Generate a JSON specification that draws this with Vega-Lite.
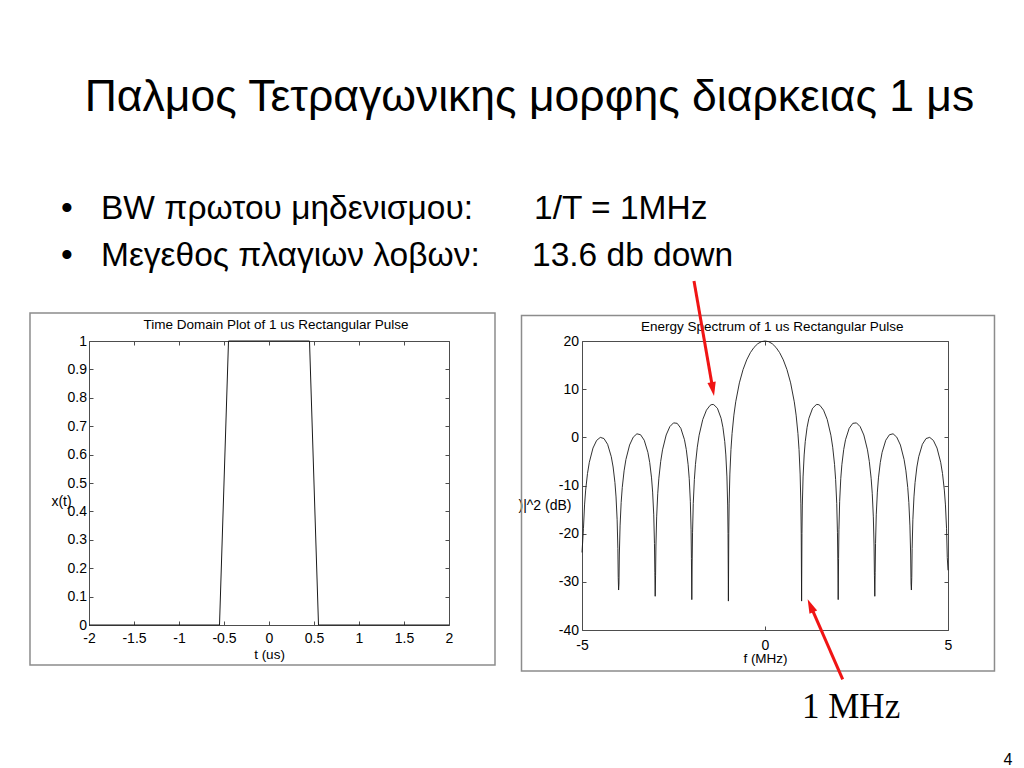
{
  "$schema": "https://vega.github.io/schema/vega-lite/v6.json",
  "background": "white",
  "padding": 0,
  "autosize": {"type": "pad"},
  "bounds": "flush",
  "spacing": 133,
  "config": {
    "font": "Liberation Sans",
    "view": {"stroke": "#4d4d4d", "strokeWidth": 1},
    "axis": {
      "domain": false, "grid": false, "tickColor": "#4d4d4d", "tickSize": -4, "tickWidth": 1,
      "labelFontSize": 14, "labelColor": "#000000", "labelFont": "Liberation Sans",
      "titleFont": "Liberation Sans", "titleFontSize": 13.5, "titleFontWeight": "normal", "titleColor": "#000000",
      "labelFlush": false, "labelOverlap": false
    }
  },
  "datasets": {
    "pulse": [
      {"t": -2, "x": 0}, {"t": -0.55, "x": 0}, {"t": -0.45, "x": 1}, {"t": 0.45, "x": 1}, {"t": 0.55, "x": 0}, {"t": 2, "x": 0}
    ],
    "spectrum": [
      {"f": -5.0, "d": -23.9}, {"f": -4.98, "d": -21.5}, {"f": -4.96, "d": -18.89}, {"f": -4.93, "d": -14.03}, {"f": -4.9, "d": -10.95},
      {"f": -4.85, "d": -7.52}, {"f": -4.8, "d": -5.18}, {"f": -4.7, "d": -2.23}, {"f": -4.6, "d": -0.64}, {"f": -4.5, "d": -0.01},
      {"f": -4.4, "d": -0.25}, {"f": -4.3, "d": -1.45}, {"f": -4.2, "d": -4.02}, {"f": -4.15, "d": -6.16}, {"f": -4.1, "d": -9.4},
      {"f": -4.07, "d": -12.37}, {"f": -4.04, "d": -17.11}, {"f": -4.02, "d": -23.07}, {"f": -4.01, "d": -29.07}, {"f": -4.0, "d": -31.7},
      {"f": -3.99, "d": -30.47}, {"f": -3.98, "d": -24.43}, {"f": -3.96, "d": -18.39}, {"f": -3.93, "d": -13.51}, {"f": -3.9, "d": -10.41},
      {"f": -3.85, "d": -6.96}, {"f": -3.8, "d": -4.6}, {"f": -3.7, "d": -1.6}, {"f": -3.6, "d": 0.04}, {"f": -3.5, "d": 0.73},
      {"f": -3.4, "d": 0.54}, {"f": -3.3, "d": -0.6}, {"f": -3.2, "d": -3.11}, {"f": -3.15, "d": -5.22}, {"f": -3.1, "d": -8.42},
      {"f": -3.07, "d": -11.37}, {"f": -3.04, "d": -16.09}, {"f": -3.02, "d": -22.03}, {"f": -3.01, "d": -28.02}, {"f": -3.0, "d": -33.0},
      {"f": -2.99, "d": -28.62}, {"f": -2.98, "d": -22.57}, {"f": -2.96, "d": -16.51}, {"f": -2.93, "d": -11.61}, {"f": -2.9, "d": -8.49},
      {"f": -2.85, "d": -5.0}, {"f": -2.8, "d": -2.6}, {"f": -2.7, "d": 0.49}, {"f": -2.6, "d": 2.22}, {"f": -2.5, "d": 3.0},
      {"f": -2.4, "d": 2.91}, {"f": -2.3, "d": 1.88}, {"f": -2.2, "d": -0.5}, {"f": -2.15, "d": -2.55}, {"f": -2.1, "d": -5.69},
      {"f": -2.07, "d": -8.59}, {"f": -2.04, "d": -13.28}, {"f": -2.02, "d": -19.19}, {"f": -2.01, "d": -25.17}, {"f": -2.0, "d": -33.7},
      {"f": -1.99, "d": -25.88}, {"f": -1.98, "d": -19.82}, {"f": -1.96, "d": -13.73}, {"f": -1.93, "d": -8.78}, {"f": -1.9, "d": -5.62},
      {"f": -1.85, "d": -2.05}, {"f": -1.8, "d": 0.44}, {"f": -1.7, "d": 3.71}, {"f": -1.6, "d": 5.64}, {"f": -1.5, "d": 6.64},
      {"f": -1.45, "d": 6.82}, {"f": -1.4, "d": 6.79}, {"f": -1.3, "d": 6.04}, {"f": -1.2, "d": 3.96}, {"f": -1.15, "d": 2.08},
      {"f": -1.1, "d": -0.87}, {"f": -1.07, "d": -3.66}, {"f": -1.04, "d": -8.22}, {"f": -1.02, "d": -14.06}, {"f": -1.01, "d": -19.99},
      {"f": -1.0, "d": -34.0},
      {"f": -0.99, "d": -19.91}, {"f": -0.98, "d": -13.81}, {"f": -0.96, "d": -7.63}, {"f": -0.93, "d": -2.54}, {"f": -0.9, "d": 0.77},
      {"f": -0.85, "d": 4.61}, {"f": -0.8, "d": 7.38}, {"f": -0.7, "d": 11.31}, {"f": -0.6, "d": 14.06}, {"f": -0.5, "d": 16.08},
      {"f": -0.4, "d": 17.58}, {"f": -0.3, "d": 18.67}, {"f": -0.2, "d": 19.42}, {"f": -0.1, "d": 19.86}, {"f": 0, "d": 20.0},
      {"f": 0.1, "d": 19.86}, {"f": 0.2, "d": 19.42}, {"f": 0.3, "d": 18.67}, {"f": 0.4, "d": 17.58}, {"f": 0.5, "d": 16.08},
      {"f": 0.6, "d": 14.06}, {"f": 0.7, "d": 11.31}, {"f": 0.8, "d": 7.38}, {"f": 0.85, "d": 4.61}, {"f": 0.9, "d": 0.77},
      {"f": 0.93, "d": -2.54}, {"f": 0.96, "d": -7.63}, {"f": 0.98, "d": -13.81}, {"f": 0.99, "d": -19.91},
      {"f": 1.0, "d": -34.0},
      {"f": 1.01, "d": -19.99}, {"f": 1.02, "d": -14.06}, {"f": 1.04, "d": -8.22}, {"f": 1.07, "d": -3.66}, {"f": 1.1, "d": -0.87},
      {"f": 1.15, "d": 2.08}, {"f": 1.2, "d": 3.96}, {"f": 1.3, "d": 6.04}, {"f": 1.4, "d": 6.79}, {"f": 1.45, "d": 6.82},
      {"f": 1.5, "d": 6.64}, {"f": 1.6, "d": 5.64}, {"f": 1.7, "d": 3.71}, {"f": 1.8, "d": 0.44}, {"f": 1.85, "d": -2.05},
      {"f": 1.9, "d": -5.62}, {"f": 1.93, "d": -8.78}, {"f": 1.96, "d": -13.73}, {"f": 1.98, "d": -19.82}, {"f": 1.99, "d": -25.88},
      {"f": 2.0, "d": -33.7},
      {"f": 2.01, "d": -25.17}, {"f": 2.02, "d": -19.19}, {"f": 2.04, "d": -13.28}, {"f": 2.07, "d": -8.59}, {"f": 2.1, "d": -5.69},
      {"f": 2.15, "d": -2.55}, {"f": 2.2, "d": -0.5}, {"f": 2.3, "d": 1.88}, {"f": 2.4, "d": 2.91}, {"f": 2.5, "d": 3.0},
      {"f": 2.6, "d": 2.22}, {"f": 2.7, "d": 0.49}, {"f": 2.8, "d": -2.6}, {"f": 2.85, "d": -5.0}, {"f": 2.9, "d": -8.49},
      {"f": 2.93, "d": -11.61}, {"f": 2.96, "d": -16.51}, {"f": 2.98, "d": -22.57}, {"f": 2.99, "d": -28.62}, {"f": 3.0, "d": -33.0},
      {"f": 3.01, "d": -28.02}, {"f": 3.02, "d": -22.03}, {"f": 3.04, "d": -16.09}, {"f": 3.07, "d": -11.37}, {"f": 3.1, "d": -8.42},
      {"f": 3.15, "d": -5.22}, {"f": 3.2, "d": -3.11}, {"f": 3.3, "d": -0.6}, {"f": 3.4, "d": 0.54}, {"f": 3.5, "d": 0.73},
      {"f": 3.6, "d": 0.04}, {"f": 3.7, "d": -1.6}, {"f": 3.8, "d": -4.6}, {"f": 3.85, "d": -6.96}, {"f": 3.9, "d": -10.41},
      {"f": 3.93, "d": -13.51}, {"f": 3.96, "d": -18.39}, {"f": 3.98, "d": -24.43}, {"f": 3.99, "d": -30.47}, {"f": 4.0, "d": -31.7},
      {"f": 4.01, "d": -29.07}, {"f": 4.02, "d": -23.07}, {"f": 4.04, "d": -17.11}, {"f": 4.07, "d": -12.37}, {"f": 4.1, "d": -9.4},
      {"f": 4.15, "d": -6.16}, {"f": 4.2, "d": -4.02}, {"f": 4.3, "d": -1.45}, {"f": 4.4, "d": -0.25}, {"f": 4.5, "d": -0.01},
      {"f": 4.6, "d": -0.64}, {"f": 4.7, "d": -2.23}, {"f": 4.8, "d": -5.18}, {"f": 4.85, "d": -7.52}, {"f": 4.9, "d": -10.95},
      {"f": 4.93, "d": -14.03}, {"f": 4.96, "d": -18.89}, {"f": 4.98, "d": -24.93}, {"f": 5.0, "d": -27.6}
    ]
  },
  "hconcat": [
    {
      "width": 360,
      "height": 284,
      "resolve": {"axis": {"x": "independent", "y": "independent"}},
      "layer": [
        {
          "data": {"values": [{"t1": -2.9778, "t2": 8.4, "v1": 2.1972, "v2": -0.507}]},
          "mark": {"type": "rect", "opacity": 0},
          "encoding": {
            "x": {"field": "t1", "type": "quantitative", "scale": {"domain": [-2, 2], "nice": false, "zero": false},
                  "axis": {"orient": "top", "values": [-2, -1.5, -1, -0.5, 0, 0.5, 1, 1.5, 2], "labels": false, "title": null}},
            "x2": {"field": "t2"},
            "y": {"field": "v1", "type": "quantitative", "scale": {"domain": [0, 1], "nice": false, "zero": false},
                  "axis": {"orient": "right", "values": [0, 0.1, 0.2, 0.3, 0.4, 0.5, 0.6, 0.7, 0.8, 0.9, 1], "labels": false, "title": null}},
            "y2": {"field": "v2"}
          }
        },
        {
          "data": {"values": [{"t1": -2.6556, "t2": 2.5111, "v1": 1.0986, "v2": -0.1408}]},
          "mark": {"type": "rect", "filled": false, "stroke": "#8c8c8c", "strokeWidth": 1.5},
          "encoding": {
            "x": {"field": "t1", "type": "quantitative", "scale": {"domain": [-2, 2], "nice": false, "zero": false}, "axis": null},
            "x2": {"field": "t2"},
            "y": {"field": "v1", "type": "quantitative", "scale": {"domain": [0, 1], "nice": false, "zero": false}, "axis": null},
            "y2": {"field": "v2"}
          }
        },
        {
          "data": {"name": "pulse"},
          "mark": {"type": "line", "color": "#1a1a1a", "strokeWidth": 1},
          "encoding": {
            "x": {"field": "t", "type": "quantitative", "scale": {"domain": [-2, 2], "nice": false, "zero": false},
                  "axis": {"orient": "bottom", "values": [-2, -1.5, -1, -0.5, 0, 0.5, 1, 1.5, 2], "labelExpr": "'' + datum.value",
                           "labelPadding": 10, "title": "t (us)", "titleY": 33, "titleBaseline": "alphabetic"}},
            "y": {"field": "x", "type": "quantitative", "scale": {"domain": [0, 1], "nice": false, "zero": false},
                  "axis": {"orient": "left", "values": [0, 0.1, 0.2, 0.3, 0.4, 0.5, 0.6, 0.7, 0.8, 0.9, 1], "labelExpr": "'' + datum.value",
                           "labelPadding": 6.5, "title": "x(t)", "titleAngle": 0, "titleX": -28, "titleY": 160,
                           "titleAlign": "center", "titleBaseline": "middle", "titleFontSize": 14}}
          }
        },
        {
          "data": {"values": [{"t": 0.0778, "v": 1.0412, "label": "Time Domain Plot of 1 us Rectangular Pulse"}]},
          "mark": {"type": "text", "fontSize": 13.5, "align": "center", "baseline": "alphabetic", "color": "#000000"},
          "encoding": {
            "x": {"field": "t", "type": "quantitative", "scale": {"domain": [-2, 2], "nice": false, "zero": false}, "axis": null},
            "y": {"field": "v", "type": "quantitative", "scale": {"domain": [0, 1], "nice": false, "zero": false}, "axis": null},
            "text": {"field": "label"}
          }
        },
        {
          "data": {"values": [{"t": 2.8944, "v": 1.8099, "label": "Παλμος Τετραγωνικης μορφης διαρκειας 1 μs"}]},
          "mark": {"type": "text", "fontSize": 44.5, "align": "center", "baseline": "alphabetic", "color": "#000000"},
          "encoding": {
            "x": {"field": "t", "type": "quantitative", "scale": {"domain": [-2, 2], "nice": false, "zero": false}, "axis": null},
            "y": {"field": "v", "type": "quantitative", "scale": {"domain": [0, 1], "nice": false, "zero": false}, "axis": null},
            "text": {"field": "label"}
          }
        },
        {
          "data": {"values": [
            {"t": -2.3111, "v": 1.4296, "label": "•"},
            {"t": -2.3111, "v": 1.2641, "label": "•"},
            {"t": -1.8667, "v": 1.4296, "label": "BW πρωτου μηδενισμου:"},
            {"t": -1.8667, "v": 1.2641, "label": "Μεγεθος πλαγιων λοβων:"},
            {"t": 2.9444, "v": 1.4296, "label": "1/T = 1MHz"},
            {"t": 2.9222, "v": 1.2641, "label": "13.6 db down"}
          ]},
          "mark": {"type": "text", "fontSize": 33.5, "align": "left", "baseline": "alphabetic", "color": "#000000"},
          "encoding": {
            "x": {"field": "t", "type": "quantitative", "scale": {"domain": [-2, 2], "nice": false, "zero": false}, "axis": null},
            "y": {"field": "v", "type": "quantitative", "scale": {"domain": [0, 1], "nice": false, "zero": false}, "axis": null},
            "text": {"field": "label"}
          }
        }
      ]
    },
    {
      "width": 366,
      "height": 289,
      "resolve": {"axis": {"x": "independent", "y": "independent"}},
      "layer": [
        {
          "data": {"values": [{"f1": -6.653, "f2": 6.27, "d1": 25.29, "d2": -48.51}]},
          "mark": {"type": "rect", "filled": false, "stroke": "#8c8c8c", "strokeWidth": 1.5},
          "encoding": {
            "x": {"field": "f1", "type": "quantitative", "scale": {"domain": [-5, 5], "nice": false, "zero": false},
                  "axis": {"orient": "top", "values": [-5, 0, 5], "labels": false, "title": null}},
            "x2": {"field": "f2"},
            "y": {"field": "d1", "type": "quantitative", "scale": {"domain": [-40, 20], "nice": false, "zero": false},
                  "axis": {"orient": "right", "values": [-40, -30, -20, -10, 0, 10, 20], "labels": false, "title": null}},
            "y2": {"field": "d2"}
          }
        },
        {
          "data": {"name": "spectrum"},
          "mark": {"type": "line", "color": "#1a1a1a", "strokeWidth": 0.9},
          "encoding": {
            "x": {"field": "f", "type": "quantitative", "scale": {"domain": [-5, 5], "nice": false, "zero": false},
                  "axis": {"orient": "bottom", "values": [-5, 0, 5], "labelExpr": "'' + datum.value", "labelPadding": 12,
                           "title": "f (MHz)", "titleY": 32, "titleBaseline": "alphabetic"}},
            "y": {"field": "d", "type": "quantitative", "scale": {"domain": [-40, 20], "nice": false, "zero": false},
                  "axis": {"orient": "left", "values": [-40, -30, -20, -10, 0, 10, 20], "labelExpr": "'' + datum.value",
                           "labelPadding": 7.5, "title": ")|^2 (dB)", "titleAngle": 0, "titleX": -11, "titleY": 164,
                           "titleAlign": "right", "titleBaseline": "middle", "titleFontSize": 14}}
          }
        },
        {
          "data": {"values": [{"f": 0.199, "d": 22.08, "label": "Energy Spectrum of 1 us Rectangular Pulse"}]},
          "mark": {"type": "text", "fontSize": 13.5, "align": "center", "baseline": "alphabetic", "color": "#000000"},
          "encoding": {
            "x": {"field": "f", "type": "quantitative", "scale": {"domain": [-5, 5], "nice": false, "zero": false}, "axis": null},
            "y": {"field": "d", "type": "quantitative", "scale": {"domain": [-40, 20], "nice": false, "zero": false}, "axis": null},
            "text": {"field": "label"}
          }
        },
        {
          "data": {"values": [{"f": 1.011, "d": -58.21, "label": "1 MHz"}]},
          "mark": {"type": "text", "fontSize": 35, "font": "Liberation Serif", "align": "left", "baseline": "alphabetic", "color": "#000000"},
          "encoding": {
            "x": {"field": "f", "type": "quantitative", "scale": {"domain": [-5, 5], "nice": false, "zero": false}, "axis": null},
            "y": {"field": "d", "type": "quantitative", "scale": {"domain": [-40, 20], "nice": false, "zero": false}, "axis": null},
            "text": {"field": "label"}
          }
        },
        {
          "data": {"values": [{"f": 6.516, "d": -68.03, "label": "4"}]},
          "mark": {"type": "text", "fontSize": 16, "align": "left", "baseline": "alphabetic", "color": "#000000"},
          "encoding": {
            "x": {"field": "f", "type": "quantitative", "scale": {"domain": [-5, 5], "nice": false, "zero": false}, "axis": null},
            "y": {"field": "d", "type": "quantitative", "scale": {"domain": [-40, 20], "nice": false, "zero": false}, "axis": null},
            "text": {"field": "label"}
          }
        },
        {
          "data": {"values": [
            {"f": -1.94, "d": 32.46, "f2": -1.426, "d2": 10.01},
            {"f": 2.123, "d": -50.23, "f2": 1.243, "d2": -34.95}
          ]},
          "mark": {"type": "rule", "color": "#f01414", "strokeWidth": 3},
          "encoding": {
            "x": {"field": "f", "type": "quantitative", "scale": {"domain": [-5, 5], "nice": false, "zero": false}, "axis": null},
            "y": {"field": "d", "type": "quantitative", "scale": {"domain": [-40, 20], "nice": false, "zero": false}, "axis": null},
            "x2": {"field": "f2"},
            "y2": {"field": "d2"}
          }
        },
        {
          "data": {"values": [{"f": -1.426, "d": 10.01}]},
          "mark": {"type": "point", "shape": "M0,1L-0.6,-1L0.6,-1Z", "filled": true, "size": 196, "angle": 350.1, "color": "#f01414", "opacity": 1, "strokeWidth": 0},
          "encoding": {
            "x": {"field": "f", "type": "quantitative", "scale": {"domain": [-5, 5], "nice": false, "zero": false}, "axis": null},
            "y": {"field": "d", "type": "quantitative", "scale": {"domain": [-40, 20], "nice": false, "zero": false}, "axis": null}
          }
        },
        {
          "data": {"values": [{"f": 1.243, "d": -34.95}]},
          "mark": {"type": "point", "shape": "M0,1L-0.6,-1L0.6,-1Z", "filled": true, "size": 196, "angle": 156.4, "color": "#f01414", "opacity": 1, "strokeWidth": 0},
          "encoding": {
            "x": {"field": "f", "type": "quantitative", "scale": {"domain": [-5, 5], "nice": false, "zero": false}, "axis": null},
            "y": {"field": "d", "type": "quantitative", "scale": {"domain": [-40, 20], "nice": false, "zero": false}, "axis": null}
          }
        }
      ]
    }
  ]
}
